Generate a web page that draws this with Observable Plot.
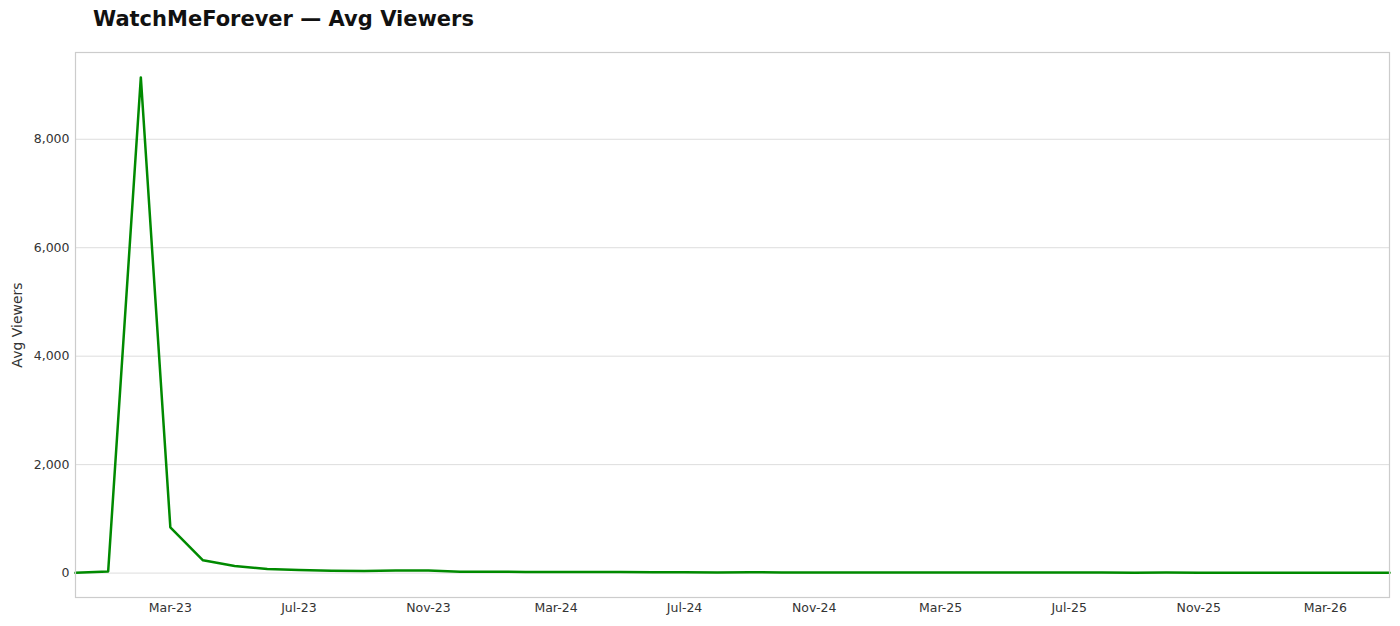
<!DOCTYPE html>
<html>
<head>
<meta charset="utf-8">
<script src="https://cdn.jsdelivr.net/npm/d3@7"></script>
<script src="https://cdn.jsdelivr.net/npm/@observablehq/plot@0.6"></script>
<style>
  html, body { margin: 0; padding: 0; background: #fff; }
  #wrap { position: relative; width: 1400px; height: 626px; }
  #title { position: absolute; left: 93px; top: 7px; font: bold 21px "DejaVu Sans", sans-serif; color: #111; }
  #chart { position: absolute; left: 0; top: 0; }
</style>
</head>
<body>
<div id="wrap">
  <div id="chart"></div>
  <div id="title">WatchMeForever — Avg Viewers</div>
</div>
<script>
const months = [
  "2022-12","2023-01","2023-02","2023-03","2023-04","2023-05","2023-06","2023-07","2023-08","2023-09","2023-10","2023-11",
  "2023-12","2024-01","2024-02","2024-03","2024-04","2024-05","2024-06","2024-07","2024-08","2024-09","2024-10","2024-11",
  "2024-12","2025-01","2025-02","2025-03","2025-04","2025-05","2025-06","2025-07","2025-08","2025-09","2025-10","2025-11",
  "2025-12","2026-01","2026-02","2026-03","2026-04","2026-05"
];
const avgViewers = [
  5, 30, 9140, 845, 235, 130, 75, 55, 45, 40, 50, 50,
  25, 25, 22, 20, 20, 18, 16, 14, 13, 14, 13, 12,
  12, 11, 11, 11, 11, 10, 10, 10, 9, 8, 9, 8,
  5, 5, 5, 6, 5, 5
];
const yTicks = [0, 2000, 4000, 6000, 8000];
const xTickLabels = ["2023-03","2023-07","2023-11","2024-03","2024-07","2024-11","2025-03","2025-07","2025-11","2026-03"];

const parse = d3.utcParse("%Y-%m");
const data = months.map((m, i) => ({date: parse(m), value: avgViewers[i]}));
const xTicks = xTickLabels.map(parse);
const fmtX = d3.utcFormat("%b-%y");

const chart = Plot.plot({
  width: 1400,
  height: 626,
  marginTop: 52,
  marginBottom: 29,
  marginLeft: 75,
  marginRight: 11,
  style: {fontFamily: "DejaVu Sans, sans-serif", fontSize: "12px", color: "#333", background: "#fff"},
  x: {type: "utc", domain: [data[0].date, data[data.length - 1].date]},
  y: {domain: [-450, 9600]},
  marks: [
    Plot.gridY(yTicks, {stroke: "#dddddd", strokeOpacity: 1, strokeWidth: 1}),
    Plot.line(data, {x: "date", y: "value", stroke: "#008a00", strokeWidth: 2.5}),
    Plot.frame({stroke: "#cccccc", strokeWidth: 1.2}),
    Plot.axisY(yTicks, {tickSize: 0, tickPadding: 6, tickFormat: d3.format(","), fontSize: 12.5, fill: "#333",
      label: null}),
    Plot.axisX(xTicks, {tickSize: 0, tickPadding: 6, tickFormat: fmtX, fontSize: 12.5, fill: "#333", label: null}),
    Plot.text(["Avg Viewers"], {frameAnchor: "left", textAnchor: "middle", dx: -58, rotate: -90, fontSize: 14, fill: "#333"})
  ]
});
document.getElementById("chart").appendChild(chart);
</script>
</body>
</html>
